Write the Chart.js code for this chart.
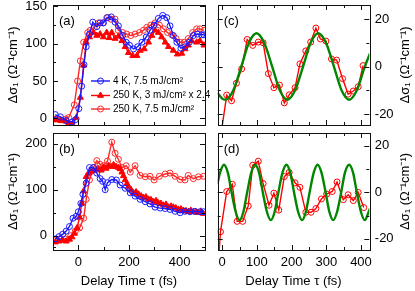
<!DOCTYPE html>
<html>
<head>
<meta charset="utf-8">
<script src="https://cdn.jsdelivr.net/npm/chart.js@4.4.0/dist/chart.umd.min.js"></script>
<style>
html,body{margin:0;padding:0;background:#fff;}
#wrap{position:relative;width:415px;height:291px;overflow:hidden;background:#fff;}
canvas{position:absolute;}
</style>
</head>
<body>
<div id="wrap">
<canvas id="pa" width="215" height="130" style="left:0;top:0;"></canvas>
<canvas id="pb" width="215" height="163" style="left:0;top:128px;"></canvas>
<canvas id="pc" width="210" height="130" style="left:205px;top:0;"></canvas>
<canvas id="pd" width="210" height="163" style="left:205px;top:128px;"></canvas>
</div>
<script>
//凡例の文字
var SERIES_NAMES = ['4 K, 7.5 mJ/cm²', '250 K, 3 mJ/cm² x 2.4', '250 K, 7.5 mJ/cm²'];
var Y_TITLE = 'Δσ₁ (Ω⁻¹cm⁻¹)';
var X_TITLE = 'Delay Time τ (fs)';

//(a) 立ち上がり
var A_BLUE_T = [-91,-71,-48,-25,-12,2,13,22,31,44,57,73,86,99,115,130,145,158,175,189,202,218,234,251,268,283,299,316,333,349,362,375,389,405,421,438,454,470,487,496];
var A_BLUE_V = [5,2,-3,-5,-2,13,43,72,96,113,129,123,128,128,135,136,129,124,111,102,98,93,96,102,109,118,125,134,138,135,124,111,102,94,96,102,111,113,112,112];
var A_TRI_T = [-91,-71,-50,-38,-25,-8,8,21,31,44,60,73,86,99,112,122,132,145,158,172,185,198,215,231,244,260,277,290,303,316,329,343,356,375,391,408,421,434,447,467,480,496];
var A_TRI_V = [-2,-3,-4,-7,-8,1,28,71,102,109,115,111,113,109,115,108,115,107,110,104,96,88,84,84,91,93,102,111,118,115,109,102,96,91,86,87,93,98,104,102,104,98];
var A_CIR_T = [-91,-71,-50,-38,-16,-3,8,21,37,47,63,80,97,112,129,145,158,175,191,207,224,241,257,270,286,303,320,336,352,369,386,402,418,434,451,467,480,496];
var A_CIR_V = [-1,-2,-1,1,18,50,77,102,115,118,122,128,128,135,133,133,118,115,113,111,113,115,118,122,125,128,125,120,115,112,107,102,102,107,115,120,120,118];

//(b)
var B_BLUE_T = [-91,-76,-62,-48,-35,-21,-8,0,10,18,31,44,60,73,86,96,106,115,132,150,165,185,205,224,244,264,283,303,323,343,362,382,402,421,441,460,480,494];
var B_BLUE_V = [-7,-2,3,10,20,38,42,52,70,90,114,148,148,136,124,118,100,115,122,121,110,103,93,86,79,74,69,62,60,59,57,53,50,53,52,53,52,52];
var B_TRI_T = [-91,-76,-62,-48,-35,-25,-15,-5,5,13,21,31,39,47,60,70,80,90,99,109,119,129,139,149,158,165,172,178,185,192,198,208,218,228,238,248,257,267,277,287,297,307,316,326,336,346,356,366,375,385,395,405,415,425,434,444,454,464,474,484,494];
var B_TRI_V = [-14,-12,-10,-12,-8,-3,5,17,40,70,97,128,135,138,141,143,145,142,148,146,152,150,154,150,148,145,138,130,121,113,107,100,93,95,90,86,83,84,79,78,74,76,71,70,66,68,62,64,62,60,57,58,55,54,52,55,52,51,50,53,48];
var B_CIR_T = [-91,-71,-50,-30,-12,5,21,31,44,60,73,86,99,115,132,145,158,172,189,205,224,244,264,283,299,320,343,362,382,402,421,434,454,474,494];
var B_CIR_V = [-10,-7,-7,0,10,17,38,79,121,148,163,155,152,162,203,179,166,148,152,138,152,131,128,129,121,129,134,136,129,122,121,131,124,128,129];

//(c) 振動成分と当てはめ
var C_RED_T = [-5,13,27,41,56,72,88,104,118,133,149,165,179,193,210,224,241,255,270,283,299,315,330,347,363,378,392,406];
var C_RED_V = [-30,-12,-14.4,-7,-1,11.4,8.9,10.3,10,-3,-8.9,-7.8,-15.3,-11.9,-8.9,1.1,6.6,10.3,16.2,11.6,10.7,3.2,2.7,-5.1,-11.6,-10.3,-8.5,0.4];
var C_FIT_T = [-14,0,10,32,55,77,99,121,144,166,188,210,233,255,277,299,322,344,366,388,411,426];
var C_FIT_V = [-11,-13.5,-14,-10,0,10,14,10,0,-10,-14,-10,0,10,14,10,0,-10,-14,-10,0,5.5];

//(d)
var D_RED_T = [-11,-5,13,29,43,59,75,88,104,118,135,149,163,179,193,210,224,241,256,270,286,301,317,331,349,363,378,392,408];
var D_RED_V = [-30,-17,0.3,3.4,-12.5,-12.5,-5.9,11.6,13.3,3.7,-5.6,-0.4,-7.7,6.7,8.5,4,2.1,-8.6,-8.6,-7,-2.9,-0.8,0.3,4.4,-3.2,-1.1,-3.6,-0.1,-6.6];
var D_FIT_T = [-14,-6,5,16,27,39,50,61,72,84,95,106,117,129,140,151,162,174,185,196,207,219,230,241,252,264,275,286,298,309,320,331,343,354,366,377,388,400,411,422,426];
var D_FIT_V = [3.5,8.5,11.8,8.5,0,-8.5,-12,-8.5,0,8.5,11.8,8.5,0,-8.5,-12,-8.5,0,8.5,11.8,8.5,0,-8.5,-12,-8.5,0,8.5,11.8,8.5,0,-8.5,-12,-8.5,0,8.5,11.8,8.5,0,-8.5,-12,-8.5,-7];

//目盛り
var L_X_TICKS = [0,200,400];
var L_X_MINOR = [-100,100,300,500];
var R_X_TICKS = [0,100,200,300,400];
var R_X_MINOR = [50,150,250,350];
var A_Y_TICKS = [0,50,100,150];
var A_Y_MINOR = [25,75,125];
var B_Y_TICKS = [0,100,200];
var B_Y_MINOR = [-25,50,150];
var R_Y_TICKS = [-20,0,20];
var R_Y_MINOR = [-10,10];

var BLUE = 'rgb(25,25,255)';
var RED = 'rgb(255,0,0)';
var RED_O = 'rgb(255,40,40)';
var GREEN = 'rgb(0,135,0)';

Chart.defaults.font.family = '"Liberation Sans", Arial, sans-serif';
Chart.defaults.font.size = 13;
Chart.defaults.color = '#000';

function pts(t, v){
  var r = [];
  for (let i = 0; i < t.length; i++) r.push({x: t[i], y: v[i]});
  return r;
}

//枠と内向きの目盛り、パネル名、凡例
var framePlugin = {
  id: 'frame',
  afterDraw: function(chart){
    var o = chart.options.plugins.frame;
    var ctx = chart.ctx, a = chart.chartArea;
    var xs = chart.scales.x, ys = chart.scales.y;
    ctx.save();
    ctx.strokeStyle = '#111';
    ctx.lineWidth = 1;
    ctx.beginPath();
    function xt(v, len){
      var p = Math.round(xs.getPixelForValue(v)) + 0.5;
      ctx.moveTo(p, a.bottom); ctx.lineTo(p, a.bottom - len);
      ctx.moveTo(p, a.top); ctx.lineTo(p, a.top + len);
    }
    function yt(v, len){
      var p = Math.round(ys.getPixelForValue(v)) + 0.5;
      ctx.moveTo(a.left, p); ctx.lineTo(a.left + len, p);
      ctx.moveTo(a.right, p); ctx.lineTo(a.right - len, p);
    }
    o.xMajor.forEach(v => xt(v, 5));
    o.xMinor.forEach(v => xt(v, 3));
    o.yMajor.forEach(v => yt(v, 5));
    o.yMinor.forEach(v => yt(v, 3));
    ctx.stroke();
    ctx.strokeRect(Math.round(a.left) + 0.5, Math.round(a.top) + 0.5, Math.round(a.right - a.left), Math.round(a.bottom - a.top));
    //パネル名
    ctx.fillStyle = '#000';
    ctx.font = '13px "Liberation Sans", Arial, sans-serif';
    ctx.textAlign = 'left';
    ctx.textBaseline = 'middle';
    ctx.fillText(o.label, a.left + 6, a.top + 16);
    //右側の縦軸タイトル(下から上へ読む向き)
    if (o.rightTitle){
      ctx.save();
      ctx.translate(a.right + 36, (a.top + a.bottom) / 2);
      ctx.rotate(-Math.PI / 2);
      ctx.textAlign = 'center';
      ctx.fillText(Y_TITLE, 0, 0);
      ctx.restore();
    }
    //凡例
    if (o.legend){
      var rows = [81, 95.5, 109];
      ctx.font = '10px "Liberation Sans", Arial, sans-serif';
      chart.data.datasets.forEach(function(ds, i){
        var y = rows[i];
        ctx.strokeStyle = ds.borderColor;
        ctx.lineWidth = ds.borderWidth;
        ctx.beginPath();
        ctx.moveTo(91, y); ctx.lineTo(110, y);
        ctx.stroke();
        ctx.strokeStyle = ds.pointBorderColor;
        ctx.fillStyle = ds.pointBackgroundColor;
        ctx.lineWidth = ds.pointBorderWidth;
        Chart.helpers.drawPoint(ctx, {pointStyle: ds.pointStyle, radius: ds.pointRadius, borderWidth: ds.pointBorderWidth, rotation: 0}, 100.5, y);
        ctx.fillStyle = '#000';
        ctx.fillText(ds.label, 113, y);
      });
    }
    ctx.restore();
  }
};

function serie(name, t, v, color, style, fill, ord){
  return {
    label: name, data: pts(t, v), borderColor: color, borderWidth: 1.4,
    pointStyle: style, pointRadius: style == 'triangle' ? 3.5 : 3,
    pointBorderColor: color, pointBackgroundColor: fill, pointBorderWidth: 1,
    tension: 0, order: ord
  };
}
function fitLine(t, v){
  return {label: 'fit', data: pts(t, v), borderColor: GREEN, borderWidth: 2.4, pointRadius: 0,
    cubicInterpolationMode: 'monotone', order: 0};
}

//軸ラベルぶんの余白を消す(chartAreaを固定するため)
function noPad(s){
  s.paddingTop = 0; s.paddingBottom = 0; s.paddingLeft = 0; s.paddingRight = 0;
}

//パネル1枚ぶんの設定
function panel(id, sets, xr, yr, xTicks, xMinor, yTicks, yMinor, opt){
  var right = opt.right;
  var showX = opt.showX;
  return new Chart(document.getElementById(id), {
    type: 'line',
    data: {datasets: sets},
    options: {
      responsive: false, animation: false, devicePixelRatio: 1,
      layout: {padding: opt.pad},
      plugins: {legend: {display: false}, tooltip: {enabled: false},
        frame: {label: opt.label, legend: !!opt.legend, rightTitle: right,
          xMajor: xTicks, xMinor: xMinor, yMajor: yTicks, yMinor: yMinor}},
      scales: {
        x: {
          type: 'linear', min: xr[0], max: xr[1],
          grid: {display: false, drawTicks: false}, border: {display: false},
          afterBuildTicks: function(s){ s.ticks = xTicks.map(v => ({value: v})); },
          ticks: {display: showX, padding: 4.5, maxRotation: 0},
          title: {display: showX, text: X_TITLE, padding: {top: 0, bottom: 1.5}, font: {size: 13}},
          afterFit: function(s){ s.height = showX ? 41 : 0; noPad(s); }
        },
        y: {
          type: 'linear', position: right ? 'right' : 'left', min: yr[0], max: yr[1],
          grid: {display: false, drawTicks: false}, border: {display: false},
          afterBuildTicks: function(s){ s.ticks = yTicks.map(v => ({value: v})); },
          ticks: {padding: right ? 5.5 : 6},
          title: {display: !right, text: Y_TITLE, padding: {top: 5.5, bottom: 0}, font: {size: 13}},
          afterFit: function(s){ s.width = right ? 45.7 : 53; noPad(s); }
        }
      }
    },
    plugins: [framePlugin]
  });
}

panel('pa', [
  serie(SERIES_NAMES[0], A_BLUE_T, A_BLUE_V, BLUE, 'circle', 'rgba(0,0,0,0)', 0),
  serie(SERIES_NAMES[1], A_TRI_T, A_TRI_V, RED, 'triangle', RED, 1),
  serie(SERIES_NAMES[2], A_CIR_T, A_CIR_V, RED_O, 'circle', 'rgba(0,0,0,0)', 2)
], [-100, 500], [-9, 152], L_X_TICKS, L_X_MINOR, A_Y_TICKS, A_Y_MINOR,
  {label: '(a)', legend: true, right: false, showX: false, pad: {top: 5, right: 10, bottom: 2, left: 0}});

panel('pb', [
  serie(SERIES_NAMES[0], B_BLUE_T, B_BLUE_V, BLUE, 'circle', 'rgba(0,0,0,0)', 0),
  serie(SERIES_NAMES[1], B_TRI_T, B_TRI_V, RED, 'triangle', RED, 1),
  serie(SERIES_NAMES[2], B_CIR_T, B_CIR_V, RED_O, 'circle', 'rgba(0,0,0,0)', 2)
], [-100, 500], [-31, 223], L_X_TICKS, L_X_MINOR, B_Y_TICKS, B_Y_MINOR,
  {label: '(b)', right: false, showX: true, pad: {top: 0, right: 10, bottom: 0, left: 0}});

panel('pc', [
  fitLine(C_FIT_T, C_FIT_V),
  serie('250 K', C_RED_T, C_RED_V, RED, 'circle', 'rgba(0,0,0,0)', 1)
], [-13, 424], [-24.6, 25.9], R_X_TICKS, R_X_MINOR, R_Y_TICKS, R_Y_MINOR,
  {label: '(c)', right: true, showX: false, pad: {top: 5, right: 0, bottom: 2, left: 12.7}});

panel('pd', [
  fitLine(D_FIT_T, D_FIT_V),
  serie('250 K', D_RED_T, D_RED_V, RED, 'circle', 'rgba(0,0,0,0)', 1)
], [-13, 424], [-24.8, 25.4], R_X_TICKS, R_X_MINOR, R_Y_TICKS, R_Y_MINOR,
  {label: '(d)', right: true, showX: true, pad: {top: 0, right: 0, bottom: 0, left: 12.7}});
</script>
</body>
</html>
